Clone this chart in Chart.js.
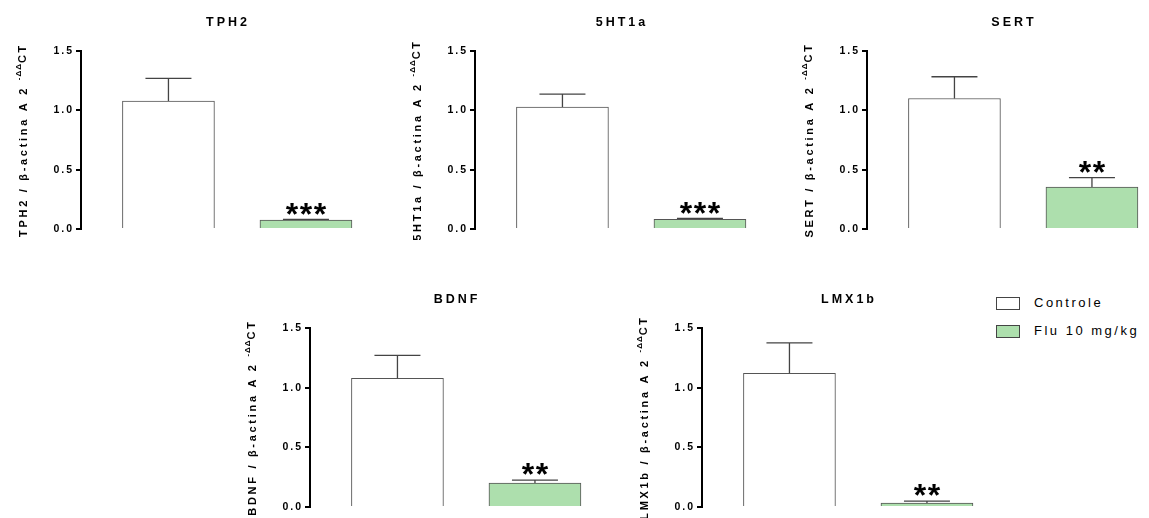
<!DOCTYPE html>
<html>
<head>
<meta charset="utf-8">
<script src="https://cdn.jsdelivr.net/npm/chart.js@4.4.1/dist/chart.umd.min.js"></script>
<style>
  body { margin: 0; background: #fff; width: 1149px; height: 518px; overflow: hidden; position: relative; }
  canvas { position: absolute; }
  .legend { position: absolute; left: 996px; top: 297px; font: 13px "Liberation Sans", Arial, sans-serif; letter-spacing: 2.5px; color: #000; }
  .legend div { height: 28px; position: relative; }
  .legend span.box { position: absolute; left: 0; top: 0; width: 22px; height: 11px; border: 1px solid #444; }
  .legend span.txt { position: absolute; left: 38px; top: -2px; white-space: nowrap; }
</style>
</head>
<body>
<canvas id="c0" width="363" height="240" style="left:0px;top:0px"></canvas>
<canvas id="c1" width="363" height="240" style="left:394px;top:0px"></canvas>
<canvas id="c2" width="363" height="240" style="left:786px;top:0px"></canvas>
<canvas id="c3" width="363" height="241" style="left:229px;top:277px"></canvas>
<canvas id="c4" width="363" height="241" style="left:621px;top:277px"></canvas>
<div class="legend">
  <div><span class="box" style="background:#fff"></span><span class="txt">Controle</span></div>
  <div><span class="box" style="background:#addfad"></span><span class="txt">Flu 10 mg/kg</span></div>
</div>
<script>
// values (2^-ΔΔCT relative to β-actina)
const genes = ["TPH2", "5HT1a", "SERT", "BDNF", "LMX1b"];
const groups = ["Controle", "Flu 10 mg/kg"];
const controleMean = [1.078, 1.028, 1.10, 1.078, 1.12];
const controleSem = [0.192, 0.109, 0.183, 0.193, 0.255];
const fluMean = [0.076, 0.082, 0.353, 0.201, 0.033];
const fluSem = [0.005, 0.008, 0.08, 0.025, 0.017];
const stars = ["***", "***", "**", "**", "**"];
const yTicks = [0, 0.5, 1.0, 1.5];

const FONT = '"Liberation Sans", Arial, sans-serif';
const GREEN = "#addfad";

const decor = {
  id: "decor",
  beforeUpdate(chart) { chart.ctx.letterSpacing = "2px"; },
  beforeDraw(chart) { chart.ctx.letterSpacing = "2px"; },
  afterDatasetsDraw(chart) {
    const i = chart.options.plugins.decor.index;
    const ctx = chart.ctx;
    const y = chart.scales.y;
    const means = [controleMean[i], fluMean[i]];
    const sems = [controleSem[i], fluSem[i]];
    ctx.save();
    ctx.strokeStyle = "#444";
    ctx.lineWidth = 1.3;
    for (let d = 0; d < 2; d++) {
      const bar = chart.getDatasetMeta(d).data[0];
      const top = y.getPixelForValue(means[d] + sems[d]);
      ctx.beginPath();
      ctx.moveTo(bar.x, bar.y);
      ctx.lineTo(bar.x, top);
      ctx.moveTo(bar.x - 23, top);
      ctx.lineTo(bar.x + 23, top);
      ctx.stroke();
    }
    // significance stars above the Flu bar
    const flu = chart.getDatasetMeta(1).data[0];
    const capY = y.getPixelForValue(fluMean[i] + fluSem[i]);
    const size = 32;
    ctx.font = "bold " + size + "px " + FONT;
    ctx.letterSpacing = "0px";
    ctx.fillStyle = "#000";
    ctx.textAlign = "center";
    ctx.textBaseline = "alphabetic";
    const n = stars[i].length;
    for (let k = 0; k < n; k++) {
      ctx.fillText("*", flu.x + (k - (n - 1) / 2) * 14, capY - 3 + 0.26 * size);
    }
    ctx.restore();
  },
  afterDraw(chart) {
    const i = chart.options.plugins.decor.index;
    const ctx = chart.ctx;
    const a = chart.chartArea;
    ctx.save();
    ctx.fillStyle = "#000";
    // panel title
    ctx.font = "bold 12.5px " + FONT;
    ctx.letterSpacing = "3px";
    ctx.textAlign = "center";
    ctx.textBaseline = "middle";
    ctx.fillText(genes[i], a.left + 147, a.top - 28);
    // y axis title with superscript
    const main = genes[i] + " / β-actina A 2 ";
    const sup = "-ΔΔ";
    const tail = "CT";
    ctx.textAlign = "left";
    ctx.textBaseline = "alphabetic";
    ctx.font = "bold 11px " + FONT;
    ctx.letterSpacing = "2.7px";
    const w1 = ctx.measureText(main).width;
    const w3 = ctx.measureText(tail).width;
    ctx.font = "bold 8px " + FONT;
    ctx.letterSpacing = "1px";
    const w2 = ctx.measureText(sup).width;
    const total = w1 + w2 + w3;
    ctx.translate(a.left - 54, (a.top + a.bottom) / 2);
    ctx.rotate(-Math.PI / 2);
    let x = -total / 2;
    ctx.font = "bold 11px " + FONT;
    ctx.letterSpacing = "2.7px";
    ctx.fillText(main, x, 0);
    x += w1;
    ctx.font = "bold 8px " + FONT;
    ctx.letterSpacing = "1px";
    ctx.fillText(sup, x, -6);
    x += w2;
    ctx.font = "bold 11px " + FONT;
    ctx.letterSpacing = "2.7px";
    ctx.fillText(tail, x, -1);
    ctx.restore();
  }
};

function makePanel(i) {
  const ctx = document.getElementById("c" + i).getContext("2d");
  return new Chart(ctx, {
    type: "bar",
    data: {
      datasets: [
        {
          label: groups[0],
          data: [{ x: 0, y: controleMean[i] }],
          backgroundColor: "#ffffff",
          borderColor: "#555",
          borderWidth: 1,
        },
        {
          label: groups[1],
          data: [{ x: 1, y: fluMean[i] }],
          backgroundColor: GREEN,
          borderColor: "#555",
          borderWidth: 1,
        },
      ],
    },
    options: {
      responsive: false,
      animation: false,
      grouped: false,
      barThickness: 92,
      layout: { padding: { left: 41, top: 51, right: 2, bottom: 11 } },
      scales: {
        x: {
          type: "linear",
          display: false,
          offset: false,
          min: -0.636,
          max: -0.636 + 280 / 137.5,
        },
        y: {
          min: 0,
          max: 1.5,
          afterFit(scale) { scale.width = 40; },
          afterBuildTicks(scale) { scale.ticks = yTicks.map(v => ({ value: v })); },
          ticks: {
            color: "#000",
            padding: 2,
            font: { family: FONT, weight: "bold", size: 10.5 },
            callback: v => v.toFixed(1),
          },
          grid: {
            drawOnChartArea: false,
            drawTicks: true,
            tickLength: 5,
            color: "#000",
            lineWidth: 2,
          },
          border: { display: true, color: "#000", width: 2 },
        },
      },
      plugins: {
        legend: { display: false },
        tooltip: { enabled: false },
        decor: { index: i },
      },
    },
    plugins: [decor],
  });
}

genes.forEach((g, i) => makePanel(i));
</script>
</body>
</html>
